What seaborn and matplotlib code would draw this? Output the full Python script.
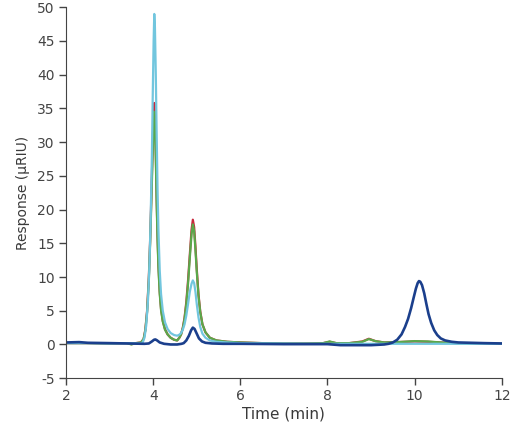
import pandas as pd
import matplotlib
matplotlib.use("Agg")
import matplotlib.pyplot as plt
import seaborn as sns

# ------------------------- Trace values -------------------------

red_t = [2.0, 2.5, 3.0, 3.4, 3.5, 3.6, 3.72, 3.78, 3.82, 3.86, 3.90, 3.93, 3.96, 3.99, 4.01, 4.025,
         4.04, 4.06, 4.08, 4.10, 4.12, 4.15, 4.18, 4.22, 4.27, 4.33, 4.40, 4.48, 4.55, 4.60, 4.64,
         4.68, 4.72, 4.76, 4.80, 4.84, 4.88, 4.91, 4.94, 4.97, 5.00, 5.04, 5.08, 5.13, 5.20, 5.30,
         5.45, 5.7, 6.0, 6.5, 7.0, 7.5, 7.9, 8.05, 8.2, 8.5, 8.8, 8.95, 9.1, 9.3, 9.6, 10.0, 10.3,
         10.6, 11.0, 11.5, 12.0]
red_y = [0.2, 0.2, 0.15, 0.2, 0.05, 0.2, 0.3, 0.8, 2.2, 5.0, 10.0, 15.5, 22.5, 30.0, 34.5, 35.8,
         34.0, 28.5, 21.5, 16.0, 11.8, 7.8, 5.3, 3.5, 2.3, 1.5, 1.0, 0.7, 0.6, 1.0, 1.5,
         2.5, 4.0, 6.3, 9.5, 13.3, 17.0, 18.5, 17.4, 14.5, 11.2, 7.4, 4.9, 3.0, 1.8, 1.0,
         0.6, 0.4, 0.3, 0.2, 0.15, 0.15, 0.2, 0.4, 0.2, 0.2, 0.45, 0.85, 0.5, 0.3, 0.35, 0.45, 0.4,
         0.3, 0.2, 0.15, 0.1]

green_t = red_t
green_y = [0.2, 0.2, 0.15, 0.2, 0.0, 0.2, 0.3, 0.8, 2.1, 4.8, 9.6, 15.0, 21.6, 28.8, 33.2, 34.5,
           32.8, 27.5, 20.8, 15.5, 11.4, 7.5, 5.1, 3.4, 2.2, 1.5, 1.0, 0.7, 0.6, 1.0, 1.5,
           2.4, 3.8, 6.0, 9.0, 12.8, 16.3, 17.8, 16.8, 14.0, 10.8, 7.2, 4.8, 3.0, 1.8, 1.0,
           0.6, 0.4, 0.3, 0.2, 0.15, 0.15, 0.2, 0.45, 0.2, 0.2, 0.4, 0.8, 0.5, 0.3, 0.35, 0.5, 0.45,
           0.3, 0.2, 0.15, 0.1]

cyan_t = [2.0, 2.5, 3.0, 3.5, 3.70, 3.76, 3.80, 3.84, 3.88, 3.91, 3.94, 3.97, 3.99, 4.01, 4.025,
          4.04, 4.06, 4.08, 4.10, 4.12, 4.15, 4.18, 4.22, 4.27, 4.33, 4.40, 4.48, 4.55, 4.60,
          4.64, 4.68, 4.72, 4.76, 4.80, 4.84, 4.88, 4.91, 4.94, 4.97, 5.00, 5.04, 5.08, 5.13,
          5.20, 5.30, 5.45, 5.7, 6.0, 7.0, 8.0, 9.0, 10.0, 11.0, 12.0]
cyan_y = [0.2, 0.2, 0.15, 0.2, 0.15, 0.3, 1.0, 2.8, 6.5, 11.0, 18.0, 28.0, 37.0, 45.0, 49.0,
          47.0, 40.0, 31.0, 23.0, 17.0, 11.0, 7.5, 5.0, 3.3, 2.3, 1.7, 1.4, 1.3, 1.45,
          1.7, 2.2, 3.0, 4.3, 6.0, 7.8, 9.0, 9.5, 9.1, 7.8, 6.0, 4.0, 2.6, 1.6,
          1.0, 0.6, 0.4, 0.3, 0.2, 0.15, 0.1, 0.1, 0.1, 0.1, 0.1]

blue_t = [2.0, 2.3, 2.5, 3.0, 3.8, 3.9, 3.97, 4.02, 4.05, 4.09, 4.15, 4.25, 4.4, 4.55, 4.65, 4.7,
          4.76, 4.82, 4.87, 4.91, 4.95, 5.0, 5.05, 5.12, 5.2, 5.35, 5.6, 6.0, 7.0, 8.0, 8.3, 9.0,
          9.3, 9.4, 9.5, 9.6, 9.7, 9.78, 9.85, 9.92, 9.98, 10.03, 10.07, 10.1, 10.13, 10.17, 10.22,
          10.27, 10.32, 10.38, 10.45, 10.52, 10.6, 10.7, 10.85, 11.0, 11.3, 11.6, 12.0]
blue_y = [0.3, 0.35, 0.25, 0.2, 0.1, 0.15, 0.45, 0.7, 0.75, 0.6, 0.3, 0.1, 0.0, 0.0, 0.1, 0.2,
          0.6, 1.3, 2.1, 2.5, 2.3, 1.6, 0.9, 0.45, 0.25, 0.15, 0.1, 0.1, 0.05, 0.05, -0.1, -0.1,
          0.0, 0.1, 0.3, 0.7, 1.5, 2.6, 3.8, 5.4, 7.0, 8.3, 9.1, 9.4, 9.3, 8.8, 7.6,
          6.0, 4.5, 3.2, 2.1, 1.4, 0.9, 0.6, 0.4, 0.3, 0.25, 0.2, 0.15]

# ------------------------- Plot -------------------------

sns.set_style("ticks")
plt.rcParams["font.family"] = ["DejaVu Sans"]
plt.rcParams["axes.unicode_minus"] = False

fig = plt.figure(figsize=(5.12, 4.24), dpi=100)
ax = fig.add_axes([0.129, 0.108, 0.851, 0.875])

sns.lineplot(x=red_t, y=red_y, color="#c8283c", linewidth=1.6, ax=ax)
sns.lineplot(x=green_t, y=green_y, color="#5aa84a", linewidth=1.6, ax=ax)
sns.lineplot(x=cyan_t, y=cyan_y, color="#72c6de", linewidth=1.6, ax=ax)
sns.lineplot(x=blue_t, y=blue_y, color="#1b3f8c", linewidth=1.9, ax=ax)

ax.set_xlim(2, 12)
ax.set_ylim(-5, 50)
ax.set_xticks([2, 4, 6, 8, 10, 12])
ax.set_yticks(range(-5, 55, 5))

ax.set_xlabel("Time (min)", fontsize=11, color="#3a3a3a", labelpad=2)
ax.set_ylabel("Response (\u00b5RIU)", fontsize=10, color="#3a3a3a", labelpad=5)
ax.tick_params(labelsize=10, colors="#444444", length=5, width=1, pad=3)
for s in ["left", "bottom"]:
    ax.spines[s].set_color("#444444")
sns.despine(ax=ax)

plt.savefig("out.png", dpi=100)
